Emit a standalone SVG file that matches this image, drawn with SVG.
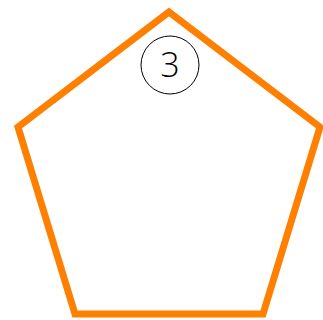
<svg xmlns="http://www.w3.org/2000/svg" width="323" height="320" viewBox="0 0 323 320">
<style>
.shape{fill:none;stroke:#ff8000;stroke-width:7;stroke-linejoin:miter;stroke-miterlimit:10}
.badge{fill:#fff;stroke:#000;stroke-width:1}
.lbl{font-family:"Open Sans","DejaVu Sans",sans-serif;font-weight:300;font-size:34px;fill:#000;text-anchor:middle}
</style>
<g id="pentagon">
<polygon class="shape" points="169,12 320,127 263,314 75,314 18,127"/>
</g>
<g id="badge3">
<circle class="badge" cx="170" cy="65" r="29"/>
<text class="lbl" x="170" y="77">3</text>
</g>
</svg>
